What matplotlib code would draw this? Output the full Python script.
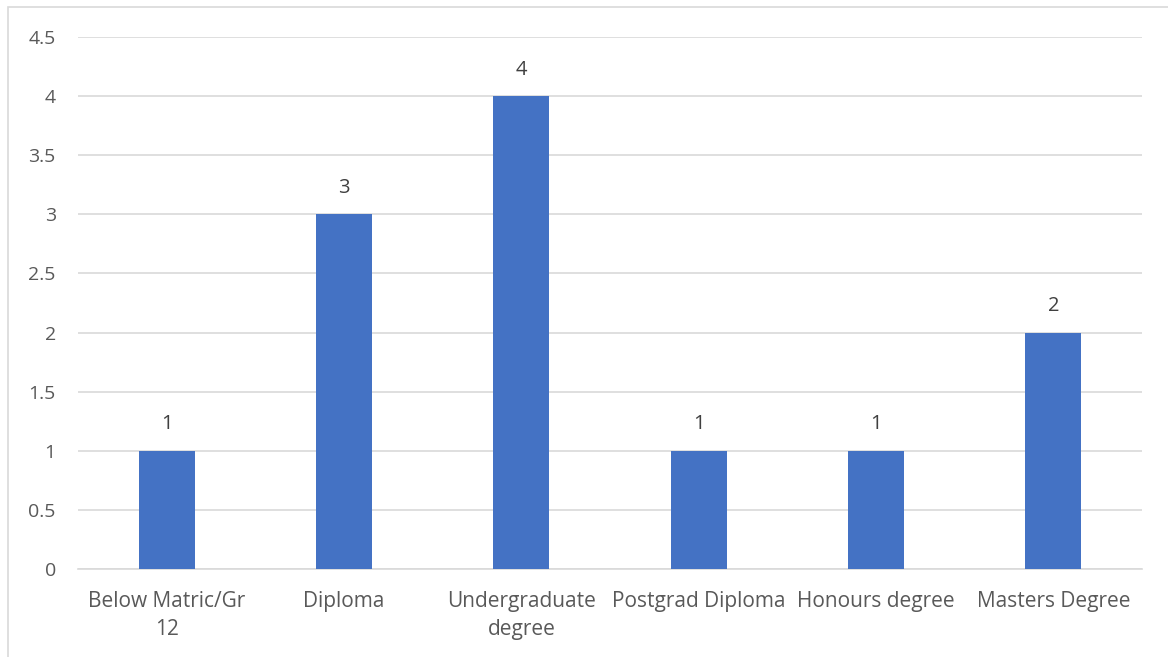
import matplotlib.pyplot as plt
from matplotlib.patches import Rectangle

categorias = ["Below Matric/Gr\n12", "Diploma", "Undergraduate\ndegree",
              "Postgrad Diploma", "Honours degree", "Masters Degree"]
valores = [1, 3, 4, 1, 1, 2]
ticks_y = [0, 0.5, 1, 1.5, 2, 2.5, 3, 3.5, 4, 4.5]
rotulos_y = ["0", "0.5", "1", "1.5", "2", "2.5", "3", "3.5", "4", "4.5"]

plt.rcParams['font.family'] = ['Open Sans', 'DejaVu Sans']

fig = plt.figure(figsize=(11.68, 6.57), dpi=100)
ax = fig.add_axes([78 / 1168, 1 - 569 / 657, (1142 - 78) / 1168, (569 - 37) / 657])

# borda do gráfico (estilo Excel)
fig.patches.append(Rectangle((8 / 1168, -0.01), 1.02, 1 - 7 / 657 + 0.01,
                             transform=fig.transFigure, fill=False,
                             edgecolor='#D9D9D9', linewidth=1.2))

x = range(len(categorias))
barras = ax.bar(x, valores, width=0.315, color='#4472C4', zorder=3)
for b, v in zip(barras, valores):
    ax.text(b.get_x() + b.get_width() / 2, v + 0.14, str(v), ha='center', va='bottom',
            fontsize=14.5, color='#404040')

ax.set_xlim(-0.5, len(categorias) - 0.5)
ax.set_ylim(0, 4.5)
ax.set_yticks(ticks_y)
ax.set_yticklabels(rotulos_y, fontsize=14)
ax.set_xticks(list(x))
ax.set_xticklabels(categorias, linespacing=1.45, fontsize=15)
ax.grid(axis='y', color='#D9D9D9', linewidth=1.2, zorder=0)
for s in ['top', 'right', 'left']:
    ax.spines[s].set_visible(False)
ax.spines['bottom'].set_color('#D9D9D9')
ax.spines['bottom'].set_linewidth(1.2)
ax.tick_params(axis='both', length=0, colors='#595959')
ax.tick_params(axis='y', pad=16)
ax.tick_params(axis='x', pad=16)

plt.savefig('out.png', dpi=100)
